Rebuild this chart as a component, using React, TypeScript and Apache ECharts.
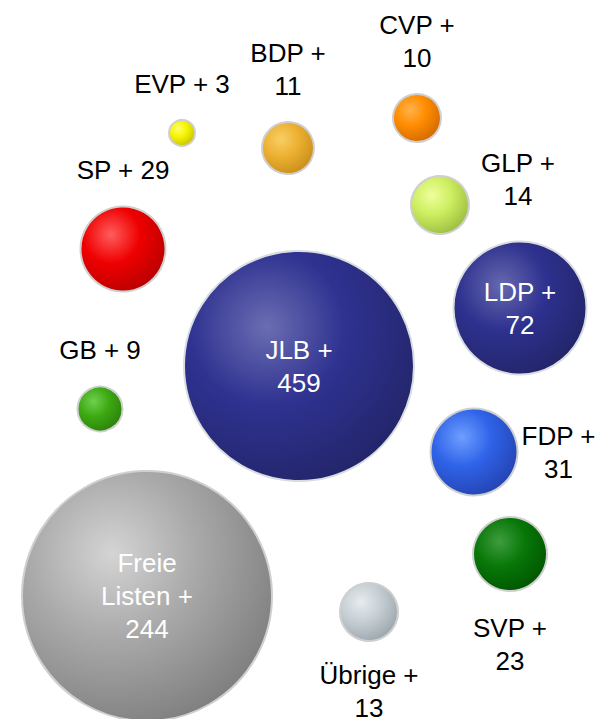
import React, { useEffect, useRef } from "react";
import * as echarts from "echarts";

const parties = ["JLB", "LDP", "Freie Listen", "SP", "FDP", "SVP", "GLP", "Übrige", "BDP", "CVP", "GB", "EVP"];
const seats = [459, 72, 244, 29, 31, 23, 14, 13, 11, 10, 9, 3];
const posX = [299, 520, 147, 123, 474, 510, 440, 369, 288, 417, 100, 182];
const posY = [366, 308, 596, 249, 452, 554, 205, 612, 148, 118, 409, 133];
const bubbleSize = [232, 135, 252, 87, 89, 76, 60, 60, 54, 50, 47, 28];
const labelPlacement = ["inside", "inside", "inside", "top", "right", "bottom", "right", "bottom", "top", "top", "top", "top"];
const labelShift = [[0, 0], [0, 0], [0, 0], [0, 0], [40, 0], [0, 0], [48, -26], [0, -3], [0, 0], [0, 0], [0, 0], [0, 0]];
const highlightColors = ["#6b6db2", "#6668ae", "#d4d4d4", "#ff5c5c", "#6e9eff", "#3f9c3f", "#efff9c", "#e6ecef", "#f9cf66", "#ffb24c", "#70cf50", "#ffff6a"];
const baseColors = ["#2f3290", "#2e318e", "#a9a9a9", "#ef0000", "#2f63e8", "#087808", "#cdee60", "#c6cfd4", "#edb032", "#ff8c00", "#3daa12", "#f4f400"];
const edgeColors = ["#222468", "#222467", "#7c7c7c", "#b50000", "#2341ae", "#005300", "#98ba3e", "#98a3a9", "#c58c18", "#cf6700", "#2a7e0a", "#c4bd00"];

const FONT_FAMILY = "'Liberation Sans', Arial, sans-serif";
const FONT_SIZE = 26;
const WRAP_WIDTH = 106;

function wrapText(text: string): string {
  const canvas = document.createElement("canvas");
  const ctx = canvas.getContext("2d");
  if (!ctx) return text;
  ctx.font = `${FONT_SIZE}px ${FONT_FAMILY}`;
  const words = text.split(" ");
  const lines: string[] = [];
  let cur = "";
  for (const w of words) {
    const trial = cur ? `${cur} ${w}` : w;
    if (cur && ctx.measureText(trial).width > WRAP_WIDTH) {
      lines.push(cur);
      cur = w;
    } else {
      cur = trial;
    }
  }
  if (cur) lines.push(cur);
  return lines.join("\n");
}

export default function App() {
  const ref = useRef<HTMLDivElement>(null);

  useEffect(() => {
    if (!ref.current) return;
    const chart = echarts.init(ref.current, null, { renderer: "svg" });

    const data = parties.map((name, i) => {
      const inside = labelPlacement[i] === "inside";
      return {
        name,
        value: [posX[i], posY[i], seats[i]],
        symbolSize: bubbleSize[i] - 2,
        itemStyle: {
          opacity: 1,
          color: {
            type: "radial",
            x: 0.36,
            y: 0.33,
            r: 0.75,
            colorStops: [
              { offset: 0, color: highlightColors[i] },
              { offset: 0.45, color: baseColors[i] },
              { offset: 1, color: edgeColors[i] },
            ],
          },
          borderColor: inside && i < 2 ? "#d8dde0" : "#cfcfcf",
          borderWidth: 2,
        },
        label: {
          position: labelPlacement[i],
          distance: labelPlacement[i] === "right" ? 0 : 19,
          offset: labelShift[i],
          color: inside ? "#ffffff" : "#000000",
        },
      };
    });

    chart.setOption({
      animation: false,
      backgroundColor: "#ffffff",
      grid: { left: 0, right: 0, top: 0, bottom: 0 },
      xAxis: { type: "value", min: 0, max: 597, show: false },
      yAxis: { type: "value", min: 0, max: 719, inverse: true, show: false },
      series: [
        {
          type: "scatter",
          clip: false,
          data,
          label: {
            show: true,
            formatter: (p: any) => wrapText(`${p.name} + ${p.value[2]}`),
            fontFamily: FONT_FAMILY,
            fontSize: FONT_SIZE,
            lineHeight: 33,
            align: "center",
          },
          emphasis: { disabled: true },
        },
      ],
    });

    return () => chart.dispose();
  }, []);

  return (
    <div
      ref={ref}
      style={{ position: "fixed", left: 0, top: 0, width: 597, height: 719 }}
    />
  );
}
